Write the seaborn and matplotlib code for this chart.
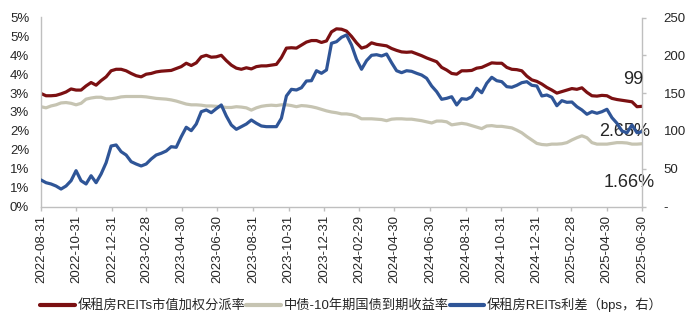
import numpy as np
import pandas as pd
import matplotlib
matplotlib.use("Agg")
import matplotlib.pyplot as plt
import seaborn as sns
from matplotlib.ticker import FixedLocator, FuncFormatter

# ---- data -------------------------------------------------------------
start_date = "2022-08-31"
end_date = "2025-06-30"

# 保租房REITs市值加权分派率 (%)
reits_yield = [
    2.99, 2.93, 2.93, 2.94, 2.98, 3.03, 3.11, 3.08, 3.08, 3.19,
    3.28, 3.21, 3.33, 3.43, 3.59, 3.63, 3.63, 3.59, 3.52, 3.46,
    3.43, 3.50, 3.52, 3.56, 3.58, 3.59, 3.60, 3.65, 3.70, 3.79,
    3.73, 3.80, 3.96, 4.00, 3.95, 3.96, 4.00, 3.86, 3.74, 3.66,
    3.63, 3.67, 3.64, 3.70, 3.72, 3.72, 3.74, 3.76, 3.94, 4.19,
    4.20, 4.19, 4.27, 4.35, 4.39, 4.39, 4.34, 4.38, 4.62, 4.70,
    4.69, 4.64, 4.50, 4.33, 4.19, 4.23, 4.33, 4.29, 4.27, 4.25,
    4.18, 4.13, 4.09, 4.08, 4.09, 4.04, 3.99, 3.93, 3.88, 3.83,
    3.68, 3.61, 3.52, 3.50, 3.59, 3.59, 3.60, 3.66, 3.68, 3.74,
    3.80, 3.79, 3.79, 3.68, 3.63, 3.62, 3.59, 3.45, 3.35, 3.31,
    3.24, 3.15, 3.08, 3.00, 3.04, 3.08, 3.12, 3.10, 3.14, 3.02,
    2.93, 2.92, 2.94, 2.93, 2.86, 2.83, 2.81, 2.79, 2.77, 2.64,
    2.65,
]

# 中债-10年期国债到期收益率 (%)
bond_yield = [
    2.64, 2.61, 2.66, 2.69, 2.74, 2.75, 2.73, 2.69, 2.73, 2.84,
    2.87, 2.89, 2.89, 2.85, 2.85, 2.87, 2.90, 2.91, 2.91, 2.91,
    2.91, 2.90, 2.88, 2.86, 2.85, 2.84, 2.82, 2.79, 2.75, 2.71,
    2.69, 2.69, 2.68, 2.66, 2.66, 2.65, 2.64, 2.62, 2.62, 2.64,
    2.63, 2.61, 2.55, 2.61, 2.65, 2.67, 2.68, 2.67, 2.69, 2.69,
    2.67, 2.64, 2.67, 2.66, 2.64, 2.61, 2.57, 2.53, 2.50, 2.48,
    2.45, 2.45, 2.43, 2.39, 2.32, 2.32, 2.32, 2.31, 2.30, 2.27,
    2.31, 2.32, 2.32, 2.31, 2.31, 2.29, 2.27, 2.24, 2.21, 2.26,
    2.26, 2.24, 2.16, 2.18, 2.20, 2.18, 2.14, 2.10, 2.06, 2.13,
    2.14, 2.12, 2.12, 2.10, 2.08, 2.02, 1.95, 1.85, 1.76, 1.67,
    1.64, 1.63, 1.65, 1.65, 1.66, 1.69, 1.76, 1.82, 1.87, 1.82,
    1.69, 1.65, 1.65, 1.65, 1.67, 1.69, 1.69, 1.68, 1.65, 1.65,
    1.66,
]

# 保租房REITs利差 (bps, right axis)
spread_bps = [
    35.1, 31.5, 29.8, 27.1, 23.1, 27.1, 34.1, 47.4, 34.1, 29.8,
    40.7, 31.5, 43.0, 57.9, 80.0, 81.4, 72.5, 68.1, 59.3, 56.2,
    53.6, 56.2, 62.8, 68.1, 70.4, 73.4, 79.1, 78.3, 92.3, 104.8,
    100.3, 109.1, 125.4, 127.7, 124.1, 129.4, 134.3, 119.7, 107.8, 102.1,
    105.6, 109.1, 114.4, 110.1, 106.5, 105.6, 105.6, 105.6, 116.7, 146.2,
    155.0, 154.1, 157.1, 166.0, 166.4, 179.6, 176.2, 180.6, 215.9, 218.0,
    223.8, 226.9, 213.6, 194.7, 181.5, 192.9, 200.0, 200.8, 199.1, 201.7,
    190.2, 179.6, 177.0, 179.6, 178.8, 176.2, 173.9, 169.6, 159.4, 151.9,
    141.8, 143.1, 145.2, 134.3, 142.6, 141.8, 145.2, 156.4, 150.5, 163.0,
    170.9, 166.4, 165.1, 158.5, 157.7, 160.3, 163.8, 165.1, 160.3, 159.4,
    146.2, 147.5, 144.5, 133.3, 140.0, 137.8, 138.2, 132.0, 127.7, 122.0,
    125.4, 123.3, 125.4, 128.6, 117.5, 110.1, 99.9, 97.6, 107.8, 97.6,
    99.0,
]

tick_labels = [
    "2022-08-31", "2022-10-31", "2022-12-31", "2023-02-28", "2023-04-30",
    "2023-06-30", "2023-08-31", "2023-10-31", "2023-12-31", "2024-02-29",
    "2024-04-30", "2024-06-30", "2024-08-31", "2024-10-31", "2024-12-31",
    "2025-02-28", "2025-04-30", "2025-06-30",
]

series_names = [
    "保租房REITs市值加权分派率",
    "中债-10年期国债到期收益率",
    "保租房REITs利差（bps，右）",
]

# ---- frame ------------------------------------------------------------
dates = pd.date_range(start_date, end_date, periods=len(reits_yield))
df = pd.DataFrame({
    "date": dates,
    "reits": reits_yield,
    "bond": bond_yield,
    "spread": spread_bps,
})

RED = "#7B1012"
GRAY = "#C6C4B2"
BLUE = "#2F5597"
SPINE = "#BFBFBF"
TEXT = "#262626"
LW = 2.3

sns.set_style("white")
plt.rcParams["font.family"] = ["Liberation Sans", "Noto Sans CJK SC"]
plt.rcParams["axes.unicode_minus"] = False

fig = plt.figure(figsize=(7.0, 3.27), dpi=100)
ax = fig.add_axes([41 / 700, 1 - 206.5 / 327, 601 / 700, 189 / 327])
ax2 = ax.twinx()

sns.lineplot(data=df, x="date", y="reits", ax=ax, color=RED, lw=LW,
             label=series_names[0], legend=False)
sns.lineplot(data=df, x="date", y="bond", ax=ax, color=GRAY, lw=LW,
             label=series_names[1], legend=False)
sns.lineplot(data=df, x="date", y="spread", ax=ax2, color=BLUE, lw=LW,
             label=series_names[2], legend=False)

# ---- axes -------------------------------------------------------------
ax.set_xlim(dates[0], dates[-1])
ax.set_ylim(0, 5)
ax2.set_ylim(0, 250)
ax.set_xlabel("")
ax.set_ylabel("")
ax2.set_ylabel("")

tick_dates = pd.to_datetime(tick_labels)
ax.xaxis.set_major_locator(FixedLocator(matplotlib.dates.date2num(tick_dates)))
ax.set_xticklabels(tick_labels, rotation=90)

ax.yaxis.set_major_locator(FixedLocator(np.arange(0, 5.01, 0.5)))
ax.yaxis.set_major_formatter(FuncFormatter(lambda v, p: f"{int(np.floor(v + 0.5 + 1e-9))}%"))

ax2.yaxis.set_major_locator(FixedLocator(np.arange(0, 251, 50)))
ax2.yaxis.set_major_formatter(FuncFormatter(lambda v, p: "-" if abs(v) < 1e-9 else f"{v:.0f}"))

for a in (ax, ax2):
    for s in a.spines.values():
        s.set_visible(False)
ax.spines["left"].set_visible(True)
ax.spines["bottom"].set_visible(True)
ax2.spines["right"].set_visible(True)
for s in (ax.spines["left"], ax.spines["bottom"], ax2.spines["right"]):
    s.set_color(SPINE)
    s.set_linewidth(1.0)

ax.tick_params(axis="x", direction="out", length=3, width=1, color=SPINE,
               pad=3, labelsize=9.5, labelcolor=TEXT, bottom=True)
ax.tick_params(axis="y", length=0, pad=8.5, labelsize=9.5, labelcolor=TEXT, left=True)
ax2.tick_params(axis="y", direction="out", length=3, width=1, color=SPINE,
                pad=12.5, labelsize=9.5, labelcolor=TEXT, right=True)
ax.grid(False)
ax2.grid(False)

# ---- end-of-series labels --------------------------------------------
ax.annotate(f"{reits_yield[-1]:.2f}%", xy=(dates[-1], reits_yield[-1]),
            xytext=(-17.5, -25.4), textcoords="offset pixels",
            ha="center", va="center", fontsize=13, color=TEXT)
ax.annotate(f"{bond_yield[-1]:.2f}%", xy=(dates[-1], bond_yield[-1]),
            xytext=(-13, -39), textcoords="offset pixels",
            ha="center", va="center", fontsize=13, color=TEXT)
ax2.annotate(f"{spread_bps[-1]:.0f}", xy=(dates[-1], spread_bps[-1]),
             xytext=(-9, 52), textcoords="offset pixels",
             ha="center", va="center", fontsize=13, color=TEXT)

# ---- legend -----------------------------------------------------------
h1, l1 = ax.get_legend_handles_labels()
h2, l2 = ax2.get_legend_handles_labels()
leg = fig.legend(h1 + h2, l1 + l2, loc="center",
                 bbox_to_anchor=(0.502, 1 - 305 / 327), ncol=3, frameon=False,
                 fontsize=9.5, handlelength=2.6, handletextpad=0.2,
                 columnspacing=0.1, borderaxespad=0)
for line in leg.get_lines():
    line.set_linewidth(3.0)
for t in leg.get_texts():
    t.set_color(TEXT)

fig.savefig("out.png", dpi=100)
